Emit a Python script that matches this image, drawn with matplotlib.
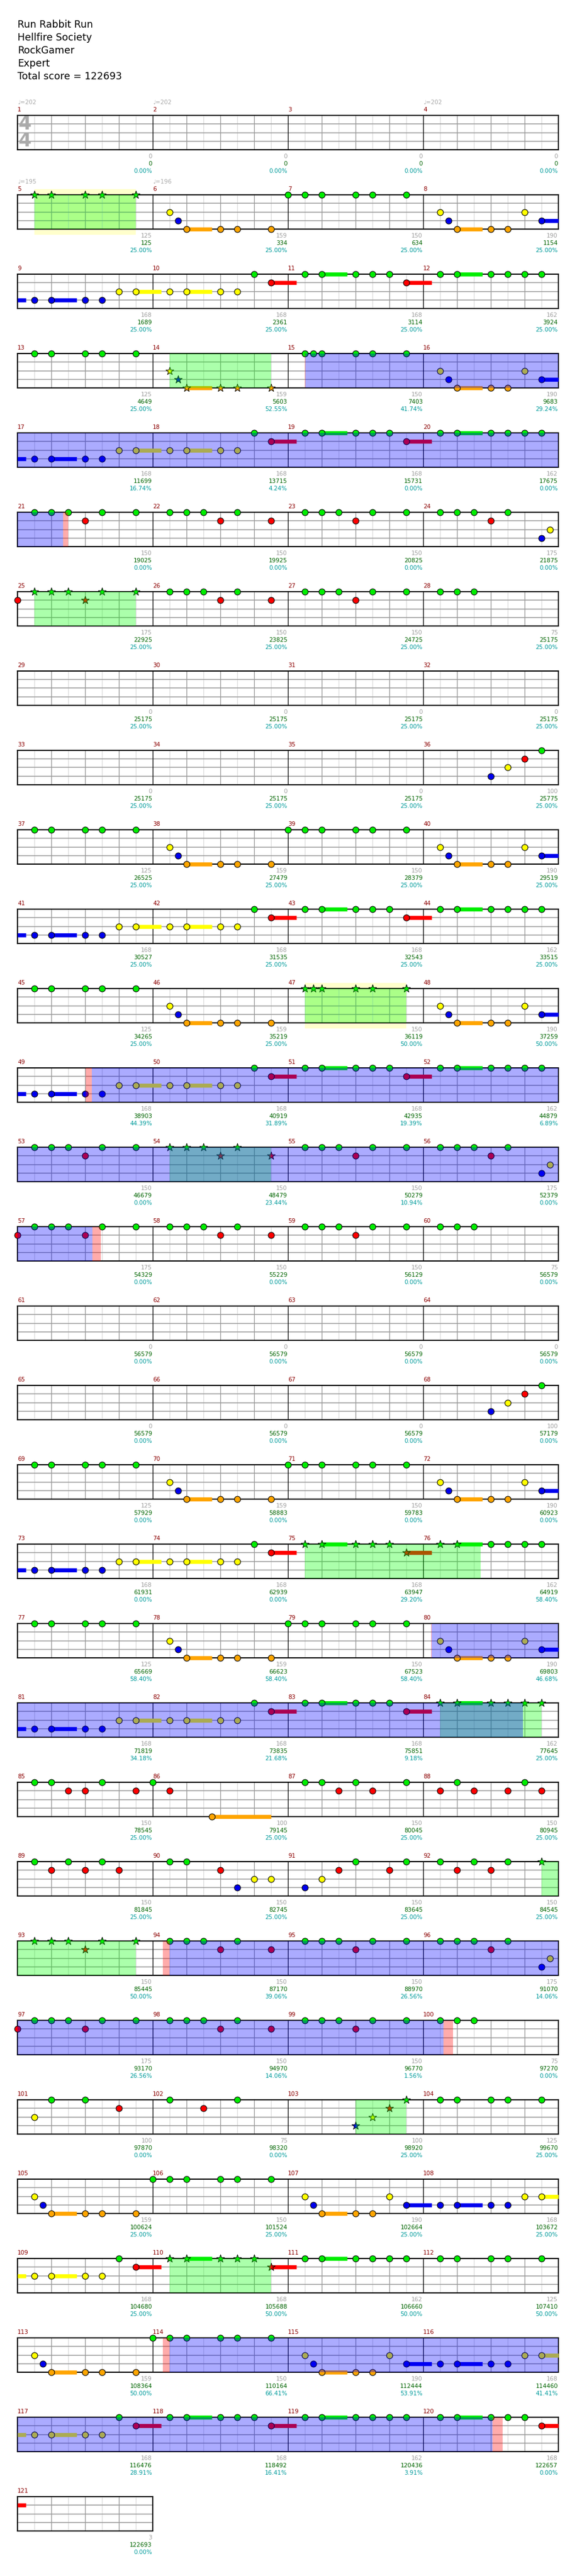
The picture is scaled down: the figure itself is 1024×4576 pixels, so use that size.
import matplotlib
matplotlib.use("Agg")
import matplotlib.pyplot as plt
from matplotlib.patches import Rectangle

# ---------------- data ----------------
song_lines = ["Run Rabbit Run", "Hellfire Society", "RockGamer", "Expert",
              "Total score = 122693"]

n_measures = 121

tempo_marks = {1: 202, 2: 202, 4: 202, 5: 195, 6: 196}

# grey number under each measure
measure_pts = [0, 0, 0, 0, 125, 159, 150, 190, 168, 168, 168, 162,
               125, 159, 150, 190, 168, 168, 168, 162, 150, 150, 150, 175,
               175, 150, 150, 75, 0, 0, 0, 0, 0, 0, 0, 100,
               125, 159, 150, 190, 168, 168, 168, 162, 125, 159, 150, 190,
               168, 168, 168, 162, 150, 150, 150, 175, 175, 150, 150, 75,
               0, 0, 0, 0, 0, 0, 0, 100, 125, 159, 150, 190,
               168, 168, 168, 162, 125, 159, 150, 190, 168, 168, 168, 162,
               150, 100, 150, 150, 150, 150, 150, 150,
               150, 150, 150, 175, 175, 150, 150, 75,
               100, 75, 100, 125, 159, 150, 190, 168,
               168, 168, 162, 125, 159, 150, 190, 168,
               168, 168, 162, 168, 3]

# running score (green)
running_score = [0, 0, 0, 0, 125, 334, 634, 1154, 1689, 2361, 3114, 3924,
                 4649, 5603, 7403, 9683, 11699, 13715, 15731, 17675,
                 19025, 19925, 20825, 21875, 22925, 23825, 24725, 25175,
                 25175, 25175, 25175, 25175, 25175, 25175, 25175, 25775,
                 26525, 27479, 28379, 29519, 30527, 31535, 32543, 33515,
                 34265, 35219, 36119, 37259, 38903, 40919, 42935, 44879,
                 46679, 48479, 50279, 52379, 54329, 55229, 56129, 56579,
                 56579, 56579, 56579, 56579, 56579, 56579, 56579, 57179,
                 57929, 58883, 59783, 60923, 61931, 62939, 63947, 64919,
                 65669, 66623, 67523, 69803, 71819, 73835, 75851, 77645,
                 78545, 79145, 80045, 80945, 81845, 82745, 83645, 84545,
                 85445, 87170, 88970, 91070, 93170, 94970, 96770, 97270,
                 97870, 98320, 98920, 99670, 100624, 101524, 102664, 103672,
                 104680, 105688, 106660, 107410, 108364, 110164, 112444, 114460,
                 116476, 118492, 120436, 122657, 122693]

# star power meter (teal)
sp_meter = (["0.00%"] * 4 + ["25.00%"] * 8 +
            ["25.00%", "52.55%", "41.74%", "29.24%",
             "16.74%", "4.24%", "0.00%", "0.00%",
             "0.00%", "0.00%", "0.00%", "0.00%"] + ["25.00%"] * 20 +
            ["25.00%", "25.00%", "50.00%", "50.00%",
             "44.39%", "31.89%", "19.39%", "6.89%",
             "0.00%", "23.44%", "10.94%", "0.00%"] + ["0.00%"] * 16 +
            ["0.00%", "0.00%", "29.20%", "58.40%",
             "58.40%", "58.40%", "58.40%", "46.68%",
             "34.18%", "21.68%", "9.18%", "25.00%"] + ["25.00%"] * 8 +
            ["50.00%", "39.06%", "26.56%", "14.06%",
             "26.56%", "14.06%", "1.56%", "0.00%",
             "0.00%", "0.00%", "25.00%", "25.00%"] + ["25.00%"] * 5 +
            ["50.00%", "50.00%", "50.00%", "50.00%",
             "66.41%", "53.91%", "41.41%",
             "28.91%", "16.41%", "3.91%", "0.00%", "0.00%"])

# notes per measure: lane letter + eighth position (+ ":" sustain length in eighths)
chart = {
    5: "G1 G2 G4 G5 G7",
    6: "Y1 B1.5 O2:1.5 O4 O5 O7",
    7: "G0 G1 G2 G4 G5 G7",
    8: "Y1 B1.5 O2:1.5 O4 O5 Y6 B7:1.5",
    9: "B1 B2:1.5 B4 B5 Y6 Y7:1.5",
    10: "Y1 Y2:1.5 Y4 Y5 G6 R7:1.5",
    11: "G1 G2:1.5 G4 G5 G6 R7:1.5",
    12: "G1 G2:1.5 G4 G5 G6 G7",
    13: "G1 G2 G4 G5 G7",
    14: "Y1 B1.5 O2:1.5 O4 O5 O7",
    15: "G1 G1.5 G2 G4 G5 G7",
    16: "Y1 B1.5 O2:1.5 O4 O5 Y6 B7:1.5",
    17: "B1 B2:1.5 B4 B5 Y6 Y7:1.5",
    18: "Y1 Y2:1.5 Y4 Y5 G6 R7:1.5",
    19: "G1 G2:1.5 G4 G5 G6 R7:1.5",
    20: "G1 G2:1.5 G4 G5 G6 G7",
    21: "G1 G2 G3 R4 G5 G7",
    22: "G1 G2 G3 R4 G5 R7",
    23: "G1 G2 G3 R4 G5 G7",
    24: "G1 G2 G3 R4 G5 B7 Y7.5",
    25: "R0 G1 G2 G3 R4 G5 G7",
    26: "G1 G2 G3 R4 G5 R7",
    27: "G1 G2 G3 R4 G5 G7",
    28: "G1 G2 G3",
    36: "B4 Y5 R6 G7",
    37: "G1 G2 G4 G5 G7",
    38: "Y1 B1.5 O2:1.5 O4 O5 O7",
    39: "G0 G1 G2 G4 G5 G7",
    40: "Y1 B1.5 O2:1.5 O4 O5 Y6 B7:1.5",
    41: "B1 B2:1.5 B4 B5 Y6 Y7:1.5",
    42: "Y1 Y2:1.5 Y4 Y5 G6 R7:1.5",
    43: "G1 G2:1.5 G4 G5 G6 R7:1.5",
    44: "G1 G2:1.5 G4 G5 G6 G7",
    45: "G1 G2 G4 G5 G7",
    46: "Y1 B1.5 O2:1.5 O4 O5 O7",
    47: "G1 G1.5 G2 G4 G5 G7",
    48: "Y1 B1.5 O2:1.5 O4 O5 Y6 B7:1.5",
    49: "B1 B2:1.5 B4 B5 Y6 Y7:1.5",
    50: "Y1 Y2:1.5 Y4 Y5 G6 R7:1.5",
    51: "G1 G2:1.5 G4 G5 G6 R7:1.5",
    52: "G1 G2:1.5 G4 G5 G6 G7",
    53: "G1 G2 G3 R4 G5 G7",
    54: "G1 G2 G3 R4 G5 R7",
    55: "G1 G2 G3 R4 G5 G7",
    56: "G1 G2 G3 R4 G5 B7 Y7.5",
    57: "R0 G1 G2 G3 R4 G5 G7",
    58: "G1 G2 G3 R4 G5 R7",
    59: "G1 G2 G3 R4 G5 G7",
    60: "G1 G2 G3",
    68: "B4 Y5 R6 G7",
    69: "G1 G2 G4 G5 G7",
    70: "Y1 B1.5 O2:1.5 O4 O5 O7",
    71: "G0 G1 G2 G4 G5 G7",
    72: "Y1 B1.5 O2:1.5 O4 O5 Y6 B7:1.5",
    73: "B1 B2:1.5 B4 B5 Y6 Y7:1.5",
    74: "Y1 Y2:1.5 Y4 Y5 G6 R7:1.5",
    75: "G1 G2:1.5 G4 G5 G6 R7:1.5",
    76: "G1 G2:1.5 G4 G5 G6 G7",
    77: "G1 G2 G4 G5 G7",
    78: "Y1 B1.5 O2:1.5 O4 O5 O7",
    79: "G0 G1 G2 G4 G5 G7",
    80: "Y1 B1.5 O2:1.5 O4 O5 Y6 B7:1.5",
    81: "B1 B2:1.5 B4 B5 Y6 Y7:1.5",
    82: "Y1 Y2:1.5 Y4 Y5 G6 R7:1.5",
    83: "G1 G2:1.5 G4 G5 G6 R7:1.5",
    84: "G1 G2:1.5 G4 G5 G6 G7",
    85: "G1 G2 R3 R4 G5 R7",
    86: "G0 R1 O3.5:3.5",
    87: "G1 G2 R3 G4 R5 G7",
    88: "R1 G2 R3 R5 G6 R7",
    89: "G1 R2 G3 R4 G5 R6",
    90: "G1 G2 R4 B5 Y6 Y7",
    91: "B1 Y2 R3 G4 R6 G7",
    92: "G1 R2 G3 R4 G5 G7",
    93: "G1 G2 G3 R4 G5 G7",
    94: "G1 G2 G3 R4 G5 R7",
    95: "G1 G2 G3 R4 G5 G7",
    96: "G1 G2 G3 R4 G5 B7 Y7.5",
    97: "R0 G1 G2 G3 R4 G5 G7",
    98: "G1 G2 G3 R4 G5 R7",
    99: "G1 G2 G3 R4 G5 G7",
    100: "G1 G2 G3",
    101: "Y1 G2 G4 R6",
    102: "G1 R3 G5",
    103: "B4 Y5 R6 G7",
    104: "G1 G2 G4 G5 G7",
    105: "Y1 B1.5 O2:1.5 O4 O5 O7",
    106: "G0 G1 G2 G4 G5 G7",
    107: "Y1 B1.5 O2:1.5 O4 O5 Y6 B7:1.5",
    108: "B1 B2:1.5 B4 B5 Y6 Y7:1.5",
    109: "Y1 Y2:1.5 Y4 Y5 G6 R7:1.5",
    110: "G1 G2:1.5 G4 G5 G6 R7:1.5",
    111: "G1 G2:1.5 G4 G5 G6 G7",
    112: "G1 G2 G4 G5 G7",
    113: "Y1 B1.5 O2:1.5 O4 O5 O7",
    114: "G0 G1 G2 G4 G5 G7",
    115: "Y1 B1.5 O2:1.5 O4 O5 Y6 B7:1.5",
    116: "B1 B2:1.5 B4 B5 Y6 Y7:1.5",
    117: "Y1 Y2:1.5 Y4 Y5 G6 R7:1.5",
    118: "G1 G2:1.5 G4 G5 G6 R7:1.5",
    119: "G1 G2:1.5 G4 G5 G6 G7",
    120: "G1 G2:1.5 G4 G5 G6 R7:1.5",
}

# star power phrases (measure, eighth) -> (measure, eighth)
sp_phrases = [((5, 1), (5, 7)), ((14, 1), (14, 7)), ((25, 1), (25, 7)),
              ((47, 1), (47, 7)), ((54, 1), (54, 7)), ((75, 1), (76, 3.4)),
              ((84, 1), (84, 7)), ((92, 7), (93, 7)), ((103, 4), (103, 7)),
              ((110, 1), (110, 7))]
sp_bands = [((5, 1), (5, 7)), ((47, 1), (47, 7))]
# overdrive activations
od_regions = [((15, 1.05), (21, 2.69)), ((49, 4.39), (57, 4.45)),
              ((80, 0.5), (84, 5.9)), ((94, 1.0), (100, 1.2)),
              ((114, 1.0), (120, 4.1))]
od_edges = [((15, 1.0), (15, 1.05)), ((21, 2.69), (21, 2.99)),
            ((49, 4.02), (49, 4.39)), ((57, 4.45), (57, 4.95)),
            ((80, 0.45), (80, 0.5)), ((94, 0.6), (94, 1.0)),
            ((100, 1.2), (100, 1.75)), ((114, 0.6), (114, 1.0)),
            ((120, 4.1), (120, 4.7))]

# ---------------- layout ----------------
W, H = 1024, 4576
X0, TOP0, ROW_STEP = 31, 205, 141
MEAS_PX, STAFF_H = 240, 61
LANES = {"G": 0, "R": 1, "Y": 2, "B": 3, "O": 4}
LANE_COLORS = ["#00ee00", "#ff0000", "#ffff00", "#0000ee", "#ffa500"]


def abs_pos(mp):
    return (mp[0] - 1) * 8 + mp[1]


fig = plt.figure(figsize=(W / 100, H / 100), dpi=100)

for i, line in enumerate(song_lines):
    fig.text(X0 / W, 1 - (49 + 23 * i) / H, line, fontsize=12.5,
             va="baseline", ha="left", color="black")

n_rows = (n_measures + 3) // 4
axes = []
for r in range(n_rows):
    nm = min(4, n_measures - 4 * r)
    top = TOP0 + r * ROW_STEP
    ax = fig.add_axes([X0 / W, 1 - (top + STAFF_H) / H, nm * MEAS_PX / W, STAFF_H / H])
    ax.set_xlim(0, nm * 8)
    ax.set_ylim(4, 0)
    ax.set_xticks([])
    ax.set_yticks([])
    for s in ax.spines.values():
        s.set_linewidth(1.5)
        s.set_color("black")
    for k in range(1, nm * 8):
        if k % 8 == 0:
            ax.axvline(k, color="black", lw=0.9, zorder=1.2)
        elif k % 2 == 0:
            ax.axvline(k, color="#999999", lw=1.0, zorder=1.1)
        else:
            ax.axvline(k, color="#dddddd", lw=1.0, zorder=1.0)
    for l in (1, 2, 3):
        ax.axhline(l, color="#999999", lw=1.1, zorder=1.1)
    axes.append(ax)

axes[0].text(0.45, 1.0, "4", fontsize=24, fontweight="bold", color="#aaaaaa",
             ha="center", va="center", zorder=1.5)
axes[0].text(0.45, 3.0, "4", fontsize=24, fontweight="bold", color="#aaaaaa",
             ha="center", va="center", zorder=1.5)


def spans(a, b):
    # split an absolute eighth range into per-row pieces
    out = []
    while a < b - 1e-9:
        r = int(a // 32)
        end = min(b, (r + 1) * 32)
        if r < n_rows:
            out.append((r, a - r * 32, end - r * 32))
        a = end
    return out


# star power bands (behind the grid)
for s, e in sp_bands:
    for r, a, b in spans(abs_pos(s), abs_pos(e)):
        axes[r].add_patch(Rectangle((a, -0.66), b - a, 5.32, color="#ffffcc",
                                    zorder=0.5, clip_on=False, lw=0))

star_ranges = [(abs_pos(s), abs_pos(e)) for s, e in sp_phrases]

# notes and sustains
for m, txt in chart.items():
    for tok in txt.split():
        lane = LANES[tok[0]]
        if ":" in tok:
            p, sus = tok[1:].split(":")
            p, sus = float(p), float(sus)
        else:
            p, sus = float(tok[1:]), 0.0
        pos = (m - 1) * 8 + p
        col = LANE_COLORS[lane]
        if sus > 0:
            for r, a, b in spans(pos, pos + sus):
                axes[r].plot([a, b], [lane, lane], color=col, lw=5.2,
                             solid_capstyle="butt", zorder=3, clip_on=False)
        r = int(pos // 32)
        star = any(a - 1e-6 <= pos <= b + 1e-6 for a, b in star_ranges)
        if star:
            axes[r].scatter([pos - r * 32], [lane], s=110, marker="*", c=col,
                            edgecolors="black", linewidths=0.7, zorder=4,
                            clip_on=False)
        else:
            axes[r].scatter([pos - r * 32], [lane], s=62, marker="o", c=col,
                            edgecolors="black", linewidths=0.8, zorder=4,
                            clip_on=False)

# overlays: star phrases (green) and overdrive (blue), edges (pink)
for s, e in sp_phrases:
    for r, a, b in spans(abs_pos(s), abs_pos(e)):
        axes[r].add_patch(Rectangle((a, 0), b - a, 4, color="#00ff00",
                                    alpha=0.33, zorder=5, lw=0))
for s, e in od_regions:
    for r, a, b in spans(abs_pos(s), abs_pos(e)):
        axes[r].add_patch(Rectangle((a, 0), b - a, 4, color="#0000ff",
                                    alpha=0.33, zorder=5, lw=0))
for s, e in od_edges:
    for r, a, b in spans(abs_pos(s), abs_pos(e)):
        axes[r].add_patch(Rectangle((a, 0), b - a, 4, color="#ff0000",
                                    alpha=0.33, zorder=5, lw=0))

# measure texts
for m in range(1, n_measures + 1):
    r, c = divmod(m - 1, 4)
    ax = axes[r]
    x0 = c * 8
    ax.annotate(str(m), xy=(x0, 0), xytext=(0, 7), textcoords="offset pixels",
                color="#8b0000", fontsize=7.5, ha="left", va="baseline",
                annotation_clip=False)
    if m in tempo_marks:
        ax.annotate("\u2669=%d" % tempo_marks[m], xy=(x0, 0), xytext=(0, 20),
                    textcoords="offset pixels", color="#aaaaaa", fontsize=7.5,
                    ha="left", va="baseline", annotation_clip=False)
    xe = x0 + 8
    ax.annotate(str(measure_pts[m - 1]), xy=(xe, 4), xytext=(-1, -15),
                textcoords="offset pixels", color="#a0a0a0", fontsize=7.5,
                ha="right", va="baseline", annotation_clip=False)
    ax.annotate(str(running_score[m - 1]), xy=(xe, 4), xytext=(-1, -28),
                textcoords="offset pixels", color="#006400", fontsize=7.5,
                ha="right", va="baseline", annotation_clip=False)
    ax.annotate(sp_meter[m - 1], xy=(xe, 4), xytext=(-1, -41),
                textcoords="offset pixels", color="#009b9b", fontsize=7.5,
                ha="right", va="baseline", annotation_clip=False)

fig.savefig("out.png", dpi=100, facecolor="white")
